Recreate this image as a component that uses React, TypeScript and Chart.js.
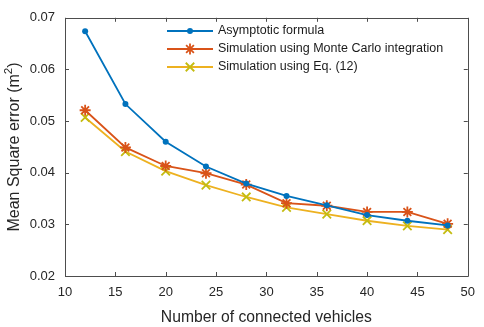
import React, { useEffect, useRef } from "react";
import { Chart, registerables } from "chart.js";

Chart.register(...registerables);

const xValues = [12, 16, 20, 24, 28, 32, 36, 40, 44, 48];
const asymptotic = [0.0674, 0.0533, 0.046, 0.0412, 0.0379, 0.0355, 0.0337, 0.0318, 0.0307, 0.0298];
const monteCarlo = [0.0521, 0.0449, 0.0413, 0.0399, 0.0377, 0.0341, 0.0336, 0.0324, 0.0324, 0.0301];
const eq12 = [0.0507, 0.0441, 0.0403, 0.0376, 0.0353, 0.0333, 0.032, 0.0307, 0.0297, 0.029];
const seriesLabels = [
  "Asymptotic formula",
  "Simulation using Monte Carlo integration",
  "Simulation using Eq. (12)",
];
const xTitle = "Number of connected vehicles";
const yTitleMain = "Mean Square error (m";
const yTitleSup = "2";
const yTitleEnd = ")";

const FONT = "'Liberation Sans', Arial, sans-serif";
const AXIS = "#4d4d4d";

const boxPlugin = {
  id: "matlabBox",
  afterDraw(chart: any) {
    const { ctx, chartArea: a, scales } = chart;
    ctx.save();
    ctx.strokeStyle = AXIS;
    ctx.lineWidth = 1;
    ctx.beginPath();
    ctx.rect(Math.round(a.left) + 0.5, Math.round(a.top) + 0.5, Math.round(a.right - a.left), Math.round(a.bottom - a.top));
    ctx.stroke();
    const tl = 4;
    ctx.beginPath();
    scales.x.ticks.forEach((t: any) => {
      const px = Math.round(scales.x.getPixelForValue(t.value)) + 0.5;
      ctx.moveTo(px, a.bottom);
      ctx.lineTo(px, a.bottom - tl);
      ctx.moveTo(px, a.top);
      ctx.lineTo(px, a.top + tl);
    });
    scales.y.ticks.forEach((t: any) => {
      const py = Math.round(scales.y.getPixelForValue(t.value)) + 0.5;
      ctx.moveTo(a.left, py);
      ctx.lineTo(a.left + tl, py);
      ctx.moveTo(a.right, py);
      ctx.lineTo(a.right - tl, py);
    });
    ctx.stroke();

    // y title with superscript
    ctx.save();
    ctx.fillStyle = "#262626";
    ctx.textBaseline = "middle";
    ctx.textAlign = "left";
    const mainFont = `16px ${FONT}`;
    const supFont = `11.5px ${FONT}`;
    ctx.font = mainFont;
    const w1 = ctx.measureText(yTitleMain).width;
    const w3 = ctx.measureText(yTitleEnd).width;
    ctx.font = supFont;
    const w2 = ctx.measureText(yTitleSup).width;
    const total = w1 + w2 + w3;
    ctx.translate(15, 147);
    ctx.rotate(-Math.PI / 2);
    let cx = -total / 2;
    ctx.font = mainFont;
    ctx.fillText(yTitleMain, cx, 0);
    cx += w1;
    ctx.font = supFont;
    ctx.fillText(yTitleSup, cx, -6);
    cx += w2;
    ctx.font = mainFont;
    ctx.fillText(yTitleEnd, cx, 0);
    ctx.restore();

    // legend
    const x0 = 167;
    const x1 = 213;
    const rows = [31, 49, 67];
    ctx.font = `12.5px ${FONT}`;
    ctx.textBaseline = "middle";
    ctx.textAlign = "left";
    chart.data.datasets.forEach((ds: any, i: number) => {
      const y = rows[i];
      ctx.strokeStyle = ds.borderColor;
      ctx.lineWidth = ds.borderWidth;
      ctx.beginPath();
      ctx.moveTo(x0, y);
      ctx.lineTo(x1, y);
      ctx.stroke();
      const mx = (x0 + x1) / 2;
      ctx.strokeStyle = ds.pointBorderColor;
      ctx.fillStyle = ds.pointBackgroundColor;
      ctx.lineWidth = ds.pointBorderWidth;
      const r = ds.pointRadius;
      if (ds.pointStyle === "circle") {
        ctx.beginPath();
        ctx.arc(mx, y, r, 0, Math.PI * 2);
        ctx.fill();
      } else if (ds.pointStyle === "star") {
        ctx.beginPath();
        for (let k = 0; k < 4; k++) {
          const ang = (k * Math.PI) / 4;
          ctx.moveTo(mx - r * Math.cos(ang), y - r * Math.sin(ang));
          ctx.lineTo(mx + r * Math.cos(ang), y + r * Math.sin(ang));
        }
        ctx.stroke();
      } else {
        ctx.beginPath();
        const d = r * Math.SQRT1_2;
        ctx.moveTo(mx - d, y - d);
        ctx.lineTo(mx + d, y + d);
        ctx.moveTo(mx - d, y + d);
        ctx.lineTo(mx + d, y - d);
        ctx.stroke();
      }
      ctx.fillStyle = "#1a1a1a";
      ctx.fillText(ds.label, 218, y);
    });
    ctx.restore();
  },
};

export default function App() {
  const ref = useRef<HTMLCanvasElement>(null);
  useEffect(() => {
    document.body.style.margin = "0";
    const mk = (vals: number[]) => xValues.map((x, i) => ({ x, y: vals[i] }));
    const chart = new Chart(ref.current!, {
      type: "line",
      data: {
        datasets: [
          {
            label: seriesLabels[0],
            data: mk(asymptotic),
            borderColor: "#0072BD",
            backgroundColor: "#0072BD",
            borderWidth: 1.8,
            pointStyle: "circle",
            pointRadius: 3,
            pointBackgroundColor: "#0072BD",
            pointBorderColor: "#0072BD",
            pointBorderWidth: 0,
            tension: 0,
          },
          {
            label: seriesLabels[1],
            data: mk(monteCarlo),
            borderColor: "#D95319",
            backgroundColor: "#D95319",
            borderWidth: 1.8,
            pointStyle: "star",
            pointRadius: 5.5,
            pointBackgroundColor: "#D95319",
            pointBorderColor: "#D95319",
            pointBorderWidth: 1.8,
            tension: 0,
          },
          {
            label: seriesLabels[2],
            data: mk(eq12),
            borderColor: "#EDB120",
            backgroundColor: "#EDB120",
            borderWidth: 1.8,
            pointStyle: "crossRot",
            pointRadius: 6,
            pointBackgroundColor: "#C4BC10",
            pointBorderColor: "#C4BC10",
            pointBorderWidth: 1.8,
            tension: 0,
          },
        ],
      },
      options: {
        animation: false,
        responsive: false,
        layout: { padding: { top: 6, right: 12, left: 0, bottom: 0 } },
        plugins: { legend: { display: false }, tooltip: { enabled: false } },
        scales: {
          x: {
            type: "linear",
            min: 10,
            max: 50,
            grid: { display: false, drawTicks: false },
            border: { display: false },
            ticks: {
              stepSize: 5,
              padding: 9,
              color: "#262626",
              font: { family: FONT, size: 13 },
              maxRotation: 0,
            },
            title: {
              display: true,
              text: xTitle,
              color: "#262626",
              font: { family: FONT, size: 15.7 },
              padding: { top: 0, bottom: 0 },
            },
            afterFit: (s: any) => {
              s.height = 51;
            },
          },
          y: {
            min: 0.02,
            max: 0.07,
            grid: { display: false, drawTicks: false },
            border: { display: false },
            ticks: {
              stepSize: 0.01,
              padding: 10,
              color: "#262626",
              font: { family: FONT, size: 13 },
              callback: (v: any) => Number(v).toFixed(2),
            },
            title: { display: false },
            afterFit: (s: any) => {
              s.width = 65;
            },
          },
        },
      },
      plugins: [boxPlugin],
    });
    return () => chart.destroy();
  }, []);
  return (
    <div style={{ position: "fixed", left: 0, top: 0, width: 484, height: 327, background: "#fff" }}>
      <canvas ref={ref} width={484} height={327} style={{ width: 484, height: 327 }} />
    </div>
  );
}
